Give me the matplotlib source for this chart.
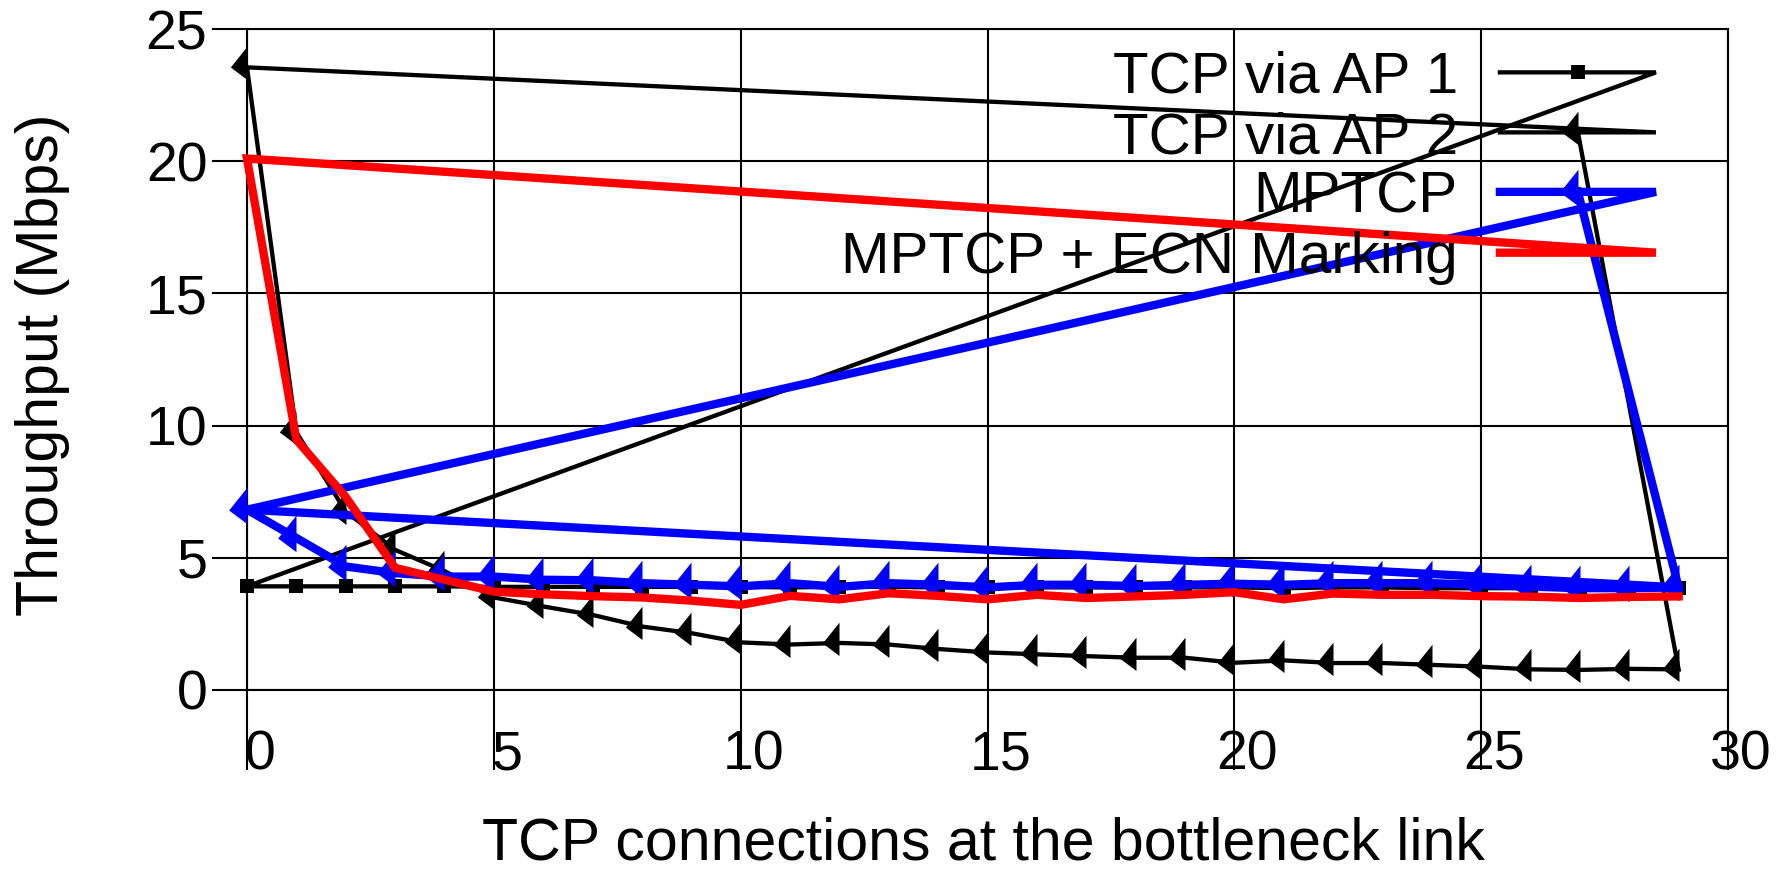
import matplotlib
matplotlib.use('Agg')
import matplotlib.pyplot as plt
from matplotlib.transforms import ScaledTranslation

plt.rcParams['font.family'] = ['Liberation Sans', 'DejaVu Sans']

# number of TCP connections at the bottleneck link
conns = list(range(30))

tcp_ap1 = [3.92, 3.92, 3.92, 3.92, 3.92, 3.90, 3.90, 3.90, 3.90, 3.90,
           3.90, 3.88, 3.90, 3.90, 3.88, 3.90, 3.88, 3.88, 3.88, 3.88,
           3.88, 3.85, 3.88, 3.88, 3.85, 3.85, 3.85, 3.85, 3.85, 3.85]
tcp_ap2 = [23.55, 9.75, 6.75, 5.30, 4.50, 3.50, 3.16, 2.84, 2.40, 2.15,
           1.80, 1.72, 1.78, 1.72, 1.55, 1.42, 1.35, 1.28, 1.22, 1.22,
           1.03, 1.12, 1.02, 1.02, 0.95, 0.88, 0.78, 0.76, 0.80, 0.78]
mptcp = [6.82, 5.75, 4.67, 4.42, 4.29, 4.29, 4.17, 4.15, 4.04, 3.98,
         3.92, 4.04, 3.90, 4.04, 3.98, 3.88, 3.98, 3.98, 3.93, 3.98,
         4.02, 3.98, 4.04, 4.04, 4.04, 3.98, 3.91, 3.85, 3.85, 3.88]
mptcp_ecn = [20.10, 9.47, 7.30, 4.62, 4.17, 3.72, 3.62, 3.55, 3.50, 3.38,
             3.22, 3.56, 3.43, 3.66, 3.56, 3.43, 3.60, 3.48, 3.54, 3.60,
             3.70, 3.43, 3.65, 3.60, 3.60, 3.55, 3.53, 3.48, 3.52, 3.54]

names = ['TCP via AP 1', 'TCP via AP 2', 'MPTCP', 'MPTCP + ECN Marking']

# where the key sits inside the plot (data units)
key_x = [25.38, 28.54]
key_y = [23.36, 21.09, 18.84, 16.54]
key_text_x = 24.53

flag = [(0, 15), (-12, 0), (0, -9)]

series = [tcp_ap1, tcp_ap2, mptcp, mptcp_ecn]
colors = ['black', 'black', 'blue', 'red']
widths = [3.1, 3.1, 6.0, 6.0]
markers = ['s', flag, flag, None]
msizes = [10, 30, 33, 0]
back_to_key = [False, True, True, False]

fig = plt.figure(figsize=(17.87, 8.73), dpi=100)
ax = fig.add_axes([247 / 1787, 183 / 873, 1481 / 1787, 661 / 873])

key_mid = (key_x[0] + key_x[1]) / 2
for i, vals in enumerate(series):
    ky = key_y[i]
    px = key_x + conns
    py = [ky, ky] + vals
    if back_to_key[i]:
        px = px + [key_mid]
        py = py + [ky]
    ax.plot(px, py, color=colors[i], lw=widths[i], solid_joinstyle='miter',
            clip_on=False, zorder=3 + i)
    if i == 2:
        # stray segment from first to last point
        ax.plot([conns[0], conns[-1]], [vals[0], vals[-1]], color=colors[i],
                lw=widths[i], clip_on=False, zorder=3 + i)
    if markers[i] is not None:
        ax.plot(conns + [key_mid], vals + [ky], ls='none', marker=markers[i],
                ms=msizes[i], color=colors[i], mew=0, clip_on=False, zorder=3 + i)
    ax.text(key_text_x, ky - 0.78, names[i], ha='right', va='baseline',
            fontsize=42, zorder=10)

ax.set_xlim(0, 30)
ax.set_ylim(0, 25)
ax.set_xticks(range(0, 31, 5))
ax.set_yticks(range(0, 26, 5))
ax.tick_params(axis='x', direction='out', length=57.6, width=1.5, pad=-28.8,
               labelsize=40, colors='black')
ax.tick_params(axis='y', direction='out', length=25, width=1.5, pad=3.6,
               labelsize=40, colors='black')
ax.grid(True, color='black', lw=1.5)
ax.set_axisbelow(True)
for s in ax.spines.values():
    s.set_linewidth(1.5)
    s.set_color('black')

shift = ScaledTranslation(13 / 100, 0, fig.dpi_scale_trans)
for lab in ax.get_xticklabels():
    lab.set_transform(lab.get_transform() + shift)

ax.set_xlabel('TCP connections at the bottleneck link', fontsize=42.5)
ax.xaxis.label.set_va('baseline')
ax.xaxis.set_label_coords(0.497, -0.257)
ax.set_ylabel('Throughput (Mbps)', fontsize=42.5)
ax.yaxis.label.set_va('center')
ax.yaxis.set_label_coords(-0.138, 0.492)

fig.savefig('out.png', dpi=100)
